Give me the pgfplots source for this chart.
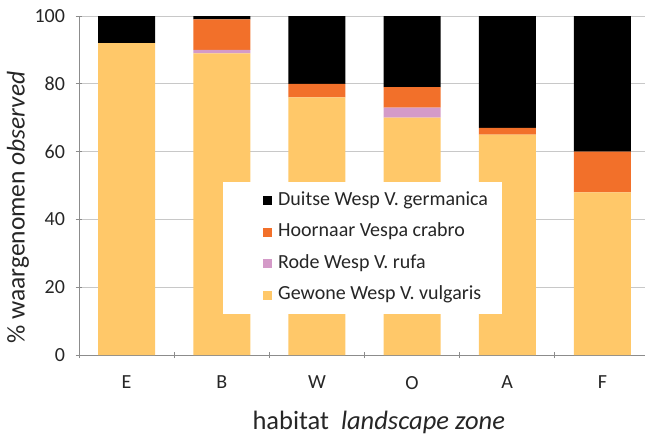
\documentclass[border=0pt]{standalone}
\usepackage{fontspec}
\setmainfont{Carlito}
\usepackage{pgfplots}
\pgfplotsset{compat=1.18}
\definecolor{vulg}{HTML}{FFC869}
\definecolor{rufa}{HTML}{D49AC8}
\definecolor{crab}{HTML}{F2702A}
\definecolor{germ}{HTML}{000000}
\definecolor{axgray}{HTML}{8C8C8C}
\definecolor{gridgray}{HTML}{C8C8C8}
\definecolor{txt}{HTML}{262626}
\begin{document}
\begin{tikzpicture}
\begin{axis}[
  at={(79pt,-355pt)}, anchor=south west,
  scale only axis, width=571pt, height=339pt,
  ybar stacked, bar width=57pt,
  xmin=-0.5, xmax=5.5, ymin=0, ymax=100,
  xtick={0,1,2,3,4,5}, xticklabels={E,B,W,O,A,F},
  minor xtick={-0.5,0.5,1.5,2.5,3.5,4.5},
  major x tick style={draw=none},
  minor x tick style={axgray, line width=0.8pt},
  minor tick length=6pt,
  ytick={0,20,40,60,80,100},
  major y tick style={axgray, line width=0.8pt},
  major tick length=7pt,
  tick align=outside,
  axis x line=bottom, axis y line=left,
  axis line style={axgray, line width=1pt, -},
  ymajorgrids, grid style={gridgray, line width=0.8pt},
  /pgf/number format/assume math mode=true,
  tick label style={font=\fontsize{20}{24}\selectfont, text=txt},
  yticklabel style={xshift=-7pt},
  xticklabel style={yshift=-14pt},
  ylabel={\% waargenomen \textit{observed}},
  ylabel style={font=\fontsize{25.5}{30}\selectfont, text=txt, at={(axis description cs:-0.107,0.435)}, anchor=center, rotate=0},
  xlabel={habitat\ \ \textit{landscape zone}},
  xlabel style={font=\fontsize{26.5}{30}\selectfont, text=txt, at={(axis description cs:0.525,-0.221)}, anchor=base},
  reverse legend,
  legend image code/.code={\path (-28pt,0pt); \fill[#1] (0pt,-4.5pt) rectangle (9pt,4.5pt);},
  legend style={at={(axis description cs:0.2513,0.5103)}, anchor=north west,
    draw=none, fill=white, inner xsep=12pt, inner ysep=8pt, row sep=10pt,
    font=\fontsize{20}{24}\selectfont, text=txt,
    nodes={inner sep=2pt, text height=13pt, text depth=4.5pt},
    /tikz/every even column/.append style={column sep=0pt},
    /tikz/every odd column/.append style={column sep=4.5pt}},
  legend cell align=left,
]
\addplot[fill=vulg, draw=none] coordinates {(0,92) (1,89) (2,76) (3,70) (4,65) (5,48)};
\addplot[fill=rufa, draw=none] coordinates {(0,0) (1,1) (2,0) (3,3) (4,0) (5,0)};
\addplot[fill=crab, draw=none] coordinates {(0,0) (1,9) (2,4) (3,6) (4,2) (5,12)};
\addplot[fill=germ, draw=none] coordinates {(0,8) (1,1) (2,20) (3,21) (4,33) (5,40)};
\legend{Gewone Wesp V. vulgaris, Rode Wesp V. rufa, Hoornaar Vespa crabro, Duitse Wesp V. germanica}
\end{axis}
\pgfresetboundingbox
\path (0,0) rectangle (645pt,-436pt);
\end{tikzpicture}
\end{document}
